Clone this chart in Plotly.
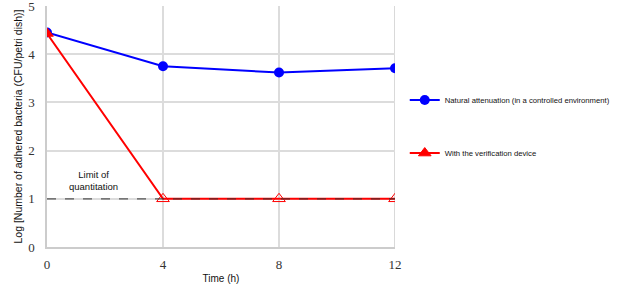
import plotly.graph_objects as go

time_h = [0, 4, 8, 12]
natural = [4.45, 3.75, 3.62, 3.71]
device = [4.43, 1.0, 1.0, 1.0]
loq = 1.0
x_ticks = [0, 4, 8, 12]
y_ticks = [0, 1, 2, 3, 4, 5]

fig = go.Figure()
fig.add_trace(go.Scatter(
    x=time_h, y=natural, mode="lines+markers", name="Natural attenuation (in a controlled environment)",
    line=dict(color="#0000ff", width=2), marker=dict(symbol="circle", size=10, color="#0000ff"),
    legendgroup="a"))
fig.add_trace(go.Scatter(
    x=time_h, y=device, mode="lines+markers", name="With the verification device",
    line=dict(color="#ff0000", width=2),
    marker=dict(symbol=["triangle-up", "triangle-up-open", "triangle-up-open", "triangle-up-open"],
                size=11, color="#ff0000", line=dict(color="#ff0000", width=1)),
    legendgroup="b"))
fig.add_trace(go.Scatter(
    x=[time_h[0], time_h[-1]], y=[loq, loq], mode="lines", showlegend=False,
    line=dict(color="#333333", width=1.2, dash="dash"), hoverinfo="skip", opacity=0.8))

fig.add_annotation(x=1.6, y=1.37, text="Limit of<br>quantitation", showarrow=False,
                   font=dict(family="Liberation Sans, Arial", size=9.5, color="#111111"))

fig.update_layout(
    width=617, height=290, margin=dict(l=47, r=222, t=6, b=43, autoexpand=False),
    plot_bgcolor="white", paper_bgcolor="white",
    showlegend=True,
    legend=dict(x=0.656, y=0.705, xref="container", yref="container", xanchor="left", yanchor="top",
                tracegroupgap=34,
                font=dict(family="Liberation Sans, Arial", size=7.7, color="#111111"),
                bgcolor="rgba(0,0,0,0)", itemwidth=30),
    xaxis=dict(range=[0, 12], tickvals=x_ticks, showgrid=True, gridcolor="#dcdcdc", gridwidth=1.5,
               zeroline=False, showline=True, linecolor="#cccccc", linewidth=1.5, mirror=False,
               tickfont=dict(family="Liberation Serif, DejaVu Serif", size=13, color="#333333"),
               ticks="", ticklabeloverflow="allow", ticklabelstandoff=5,
               title=dict(text="Time (h)", standoff=4,
                          font=dict(family="Liberation Sans, Arial", size=10, color="#111111"))),
    yaxis=dict(range=[0, 5], tickvals=y_ticks, showgrid=True, gridcolor="#dcdcdc", gridwidth=1.5,
               zeroline=False, showline=True, linecolor="#cccccc", linewidth=1.5,
               tickfont=dict(family="Liberation Serif, DejaVu Serif", size=13, color="#333333"),
               ticks="outside", ticklen=8, tickcolor="rgba(0,0,0,0)", ticklabeloverflow="allow",
               title=dict(text="Log [Number of adhered bacteria (CFU/petri dish)]", standoff=3,
                          font=dict(family="Liberation Sans, Arial", size=10.5, color="#111111"))),
)
fig.add_shape(type="line", xref="x", yref="paper", x0=12, x1=12, y0=0, y1=1,
              line=dict(color="#cccccc", width=1.5), layer="below")

fig.write_html("out.html")
